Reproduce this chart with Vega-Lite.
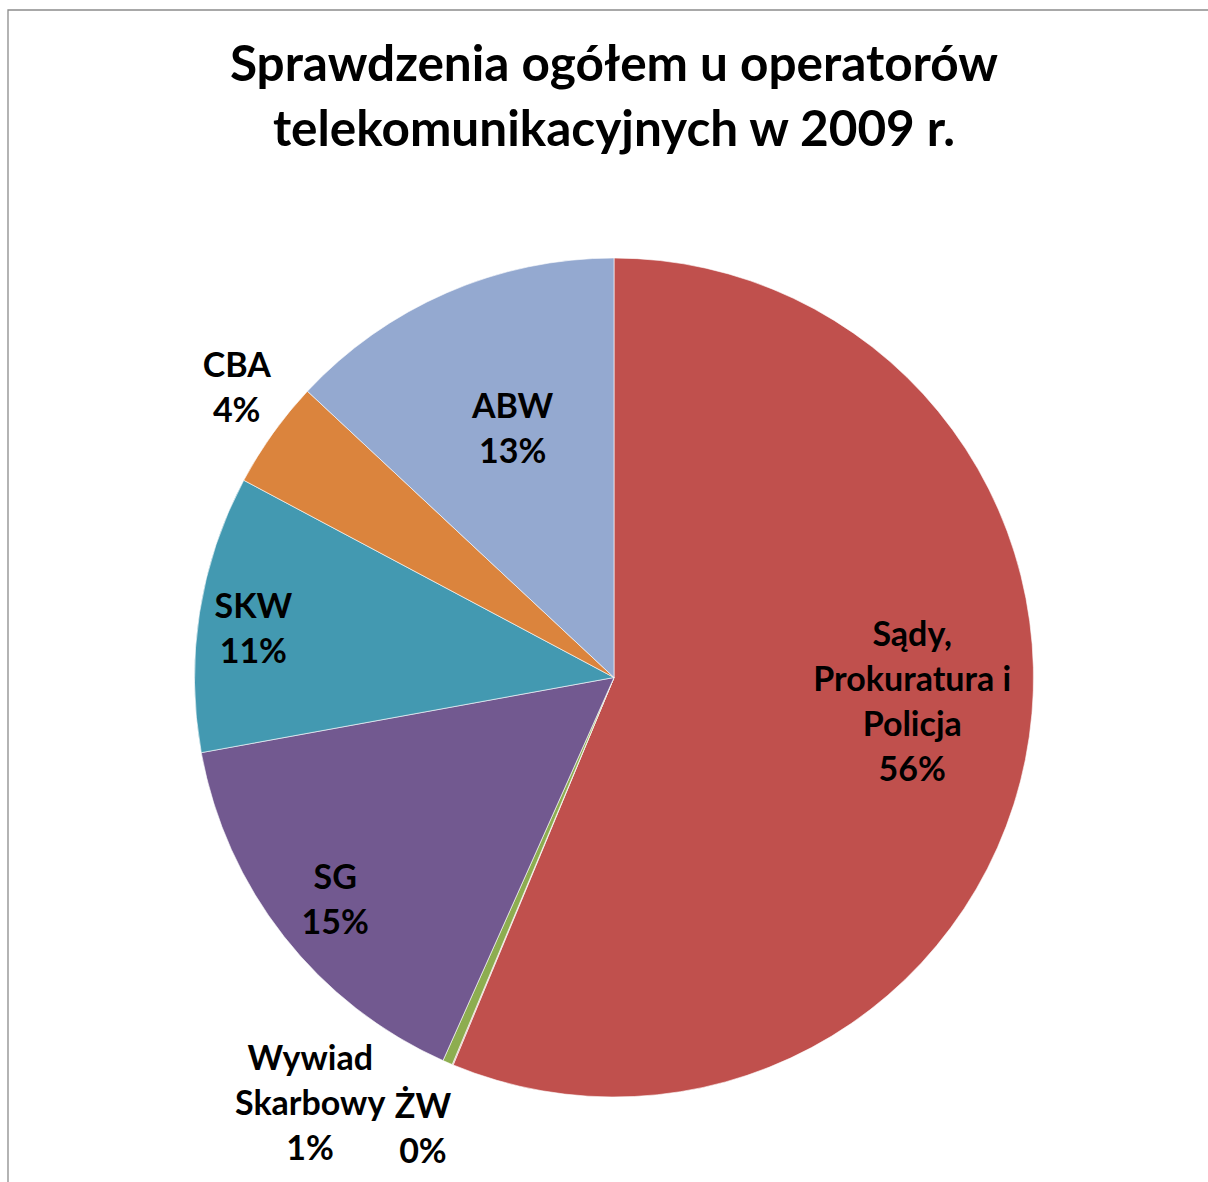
{
  "$schema": "https://vega.github.io/schema/vega-lite/v6.json",
  "autosize": "none",
  "padding": {"left": 8, "top": 10, "right": 0, "bottom": 0},
  "width": 1212,
  "height": 1335,
  "background": "#ffffff",
  "title": {
    "text": ["Sprawdzenia ogółem u operatorów", "telekomunikacyjnych w 2009 r."],
    "font": "Lato",
    "fontSize": 49.5,
    "fontWeight": "bold",
    "color": "#000000",
    "lineHeight": 65,
    "anchor": "middle",
    "frame": "group",
    "baseline": "alphabetic",
    "offset": -186
  },
  "data": {
    "values": [
      {"n": 1, "category": "Sądy, Prokuratura i Policja", "value": 56.33, "label": "Sądy,\nProkuratura i\nPolicja\n56%"},
      {"n": 2, "category": "ŻW", "value": 0.04, "label": "ŻW\n0%"},
      {"n": 3, "category": "Wywiad Skarbowy", "value": 0.38, "label": "Wywiad\nSkarbowy\n1%"},
      {"n": 4, "category": "SG", "value": 15.47, "label": "SG\n15%"},
      {"n": 5, "category": "SKW", "value": 10.67, "label": "SKW\n11%"},
      {"n": 6, "category": "CBA", "value": 4.17, "label": "CBA\n4%"},
      {"n": 7, "category": "ABW", "value": 13.06, "label": "ABW\n13%"}
    ]
  },
  "layer": [
    {
      "data": {"values": [{"frame": "chart area"}]},
      "mark": {"type": "rect", "fill": "transparent", "stroke": "#8c8c8c", "strokeWidth": 1.3},
      "encoding": {}
    },
    {
      "encoding": {
        "theta": {"field": "value", "type": "quantitative", "stack": true},
        "order": {"field": "n", "type": "quantitative"}
      },
      "layer": [
        {
          "mark": {"type": "arc", "radius": 419.5, "stroke": "#ffffff", "strokeWidth": 0.6},
          "encoding": {
            "color": {
              "field": "category",
              "type": "nominal",
              "legend": null,
              "scale": {
                "domain": ["Sądy, Prokuratura i Policja", "ŻW", "Wywiad Skarbowy", "SG", "SKW", "CBA", "ABW"],
                "range": ["#C0504D", "#D99694", "#8DAD50", "#725990", "#4399B1", "#DB843D", "#94A9D0"]
              }
            }
          }
        },
        {
          "mark": {"type": "text", "radius": 300, "dx": 4, "dy": -100},
          "encoding": {"text": {"condition": {"test": "datum.n === 1", "field": "label", "type": "nominal"}, "value": ""}}
        },
        {
          "mark": {"type": "text", "radius": 476, "dx": -8, "dy": -8.5},
          "encoding": {"text": {"condition": {"test": "datum.n === 2", "field": "label", "type": "nominal"}, "value": ""}}
        },
        {
          "mark": {"type": "text", "radius": 476, "dx": -115, "dy": -54},
          "encoding": {"text": {"condition": {"test": "datum.n === 3", "field": "label", "type": "nominal"}, "value": ""}}
        },
        {
          "mark": {"type": "text", "radius": 357, "dx": 2, "dy": -18.5},
          "encoding": {"text": {"condition": {"test": "datum.n === 4", "field": "label", "type": "nominal"}, "value": ""}}
        },
        {
          "mark": {"type": "text", "radius": 363, "dx": -2, "dy": -14},
          "encoding": {"text": {"condition": {"test": "datum.n === 5", "field": "label", "type": "nominal"}, "value": ""}}
        },
        {
          "mark": {"type": "text", "radius": 476, "dx": 10, "dy": -34},
          "encoding": {"text": {"condition": {"test": "datum.n === 6", "field": "label", "type": "nominal"}, "value": ""}}
        },
        {
          "mark": {"type": "text", "radius": 267, "dx": 5, "dy": -25},
          "encoding": {"text": {"condition": {"test": "datum.n === 7", "field": "label", "type": "nominal"}, "value": ""}}
        }
      ]
    }
  ],
  "config": {
    "view": {"stroke": null},
    "text": {
      "font": "Lato",
      "fontSize": 34,
      "fontWeight": "bold",
      "color": "#000000",
      "align": "center",
      "baseline": "middle",
      "lineBreak": "\n",
      "lineHeight": 45
    }
  }
}
